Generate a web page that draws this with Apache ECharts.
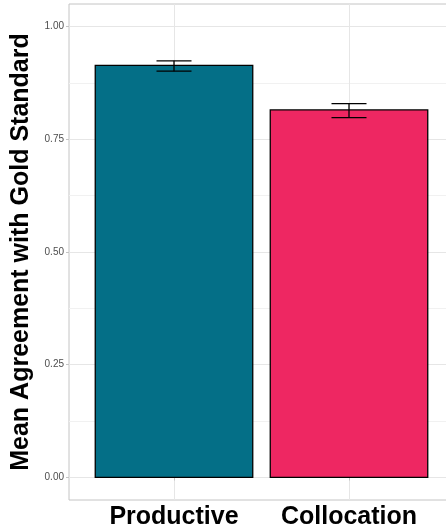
<!DOCTYPE html>
<html><head><meta charset="utf-8">
<script src="https://cdn.jsdelivr.net/npm/echarts@6/dist/echarts.min.js"></script>
<style>html,body{margin:0;padding:0;background:#fff}#c{width:446px;height:529px}</style>
</head><body><div id="c"></div>
<script>
const categories = ['Productive', 'Collocation'];
const means = [0.914, 0.815];
const lowers = [0.901, 0.798];
const uppers = [0.924, 0.829];
const barColors = ['#046F87', '#EE2762'];
const xPositions = [1, 2];
const yTicks = [0, 0.25, 0.5, 0.75, 1];
const yMinorTicks = [0.125, 0.375, 0.625, 0.875];
const yTickLabels = ['0.00', '0.25', '0.50', '0.75', '1.00'];
const yTitle = 'Mean Agreement with Gold Standard';

const chart = echarts.init(document.getElementById('c'));
const barData = categories.map((c, i) => [xPositions[i], means[i], i]);
const errData = categories.map((c, i) => [xPositions[i], lowers[i], uppers[i]]);
const FONT = '"Liberation Sans", Arial, sans-serif';

chart.setOption({
  animation: false,
  backgroundColor: '#ffffff',
  grid: {left: 69, top: 4, width: 385, height: 496, show: true, borderColor: '#c4c4c4', borderWidth: 1,
    containLabel: false, outerBoundsMode: 'none'},
  xAxis: [{
    type: 'value', min: 0.4, max: 2.6,
    axisLine: {show: false},
    axisTick: {show: true, customValues: xPositions, length: 3, lineStyle: {color: '#c4c4c4'}},
    axisLabel: {customValues: xPositions, formatter: v => categories[Math.round(v) - 1],
      fontFamily: FONT, fontWeight: 'bold', fontSize: 25, color: '#000', margin: 5},
    splitLine: {show: true, lineStyle: {color: '#e6e6e6', width: 1}}
  }],
  yAxis: [{
    type: 'value', min: -0.05, max: 1.05,
    name: yTitle, nameLocation: 'middle', nameRotate: 90, nameGap: 34,
    nameTextStyle: {fontFamily: FONT, fontWeight: 'bold', fontSize: 25, color: '#000'},
    axisLine: {show: false},
    axisTick: {show: true, customValues: yTicks, length: 3, lineStyle: {color: '#c4c4c4'}},
    axisLabel: {customValues: yTicks, margin: 5, fontFamily: FONT, fontSize: 10, color: '#4d4d4d',
      formatter: v => { const k = yTicks.findIndex(t => Math.abs(t - v) < 1e-9); return k >= 0 ? yTickLabels[k] : ''; }},
    splitLine: {show: true, lineStyle: {color: '#e6e6e6', width: 1}}
  }, {
    type: 'value', min: -0.05, max: 1.05, position: 'right',
    axisLine: {show: false},
    axisTick: {show: false, customValues: yMinorTicks},
    axisLabel: {show: false, customValues: yMinorTicks},
    splitLine: {show: true, lineStyle: {color: '#f1f1f1', width: 1}}
  }],
  series: [{
    type: 'custom', xAxisIndex: 0, yAxisIndex: 0, data: barData,
    renderItem: (params, api) => {
      const x = api.value(0), y = api.value(1);
      const a = api.coord([x - 0.45, y]);
      const b = api.coord([x + 0.45, 0]);
      return {type: 'rect', shape: {x: a[0], y: a[1], width: b[0] - a[0], height: b[1] - a[1]},
        style: {fill: barColors[api.value(2)], stroke: '#000', lineWidth: 1.3}};
    }
  }, {
    type: 'custom', xAxisIndex: 0, yAxisIndex: 0, data: errData, z: 3,
    renderItem: (params, api) => {
      const x = api.value(0), lo = api.value(1), hi = api.value(2);
      const l1 = api.coord([x - 0.1, lo]), l2 = api.coord([x + 0.1, lo]);
      const h1 = api.coord([x - 0.1, hi]), h2 = api.coord([x + 0.1, hi]);
      const st = {stroke: '#000', lineWidth: 1.3};
      return {type: 'group', children: [
        {type: 'line', shape: {x1: l1[0], y1: l1[1], x2: l2[0], y2: l2[1]}, style: st},
        {type: 'line', shape: {x1: h1[0], y1: h1[1], x2: h2[0], y2: h2[1]}, style: st},
        {type: 'line', shape: {x1: (l1[0] + l2[0]) / 2, y1: l1[1], x2: (h1[0] + h2[0]) / 2, y2: h1[1]}, style: st}
      ]};
    }
  }]
});
</script></body></html>
